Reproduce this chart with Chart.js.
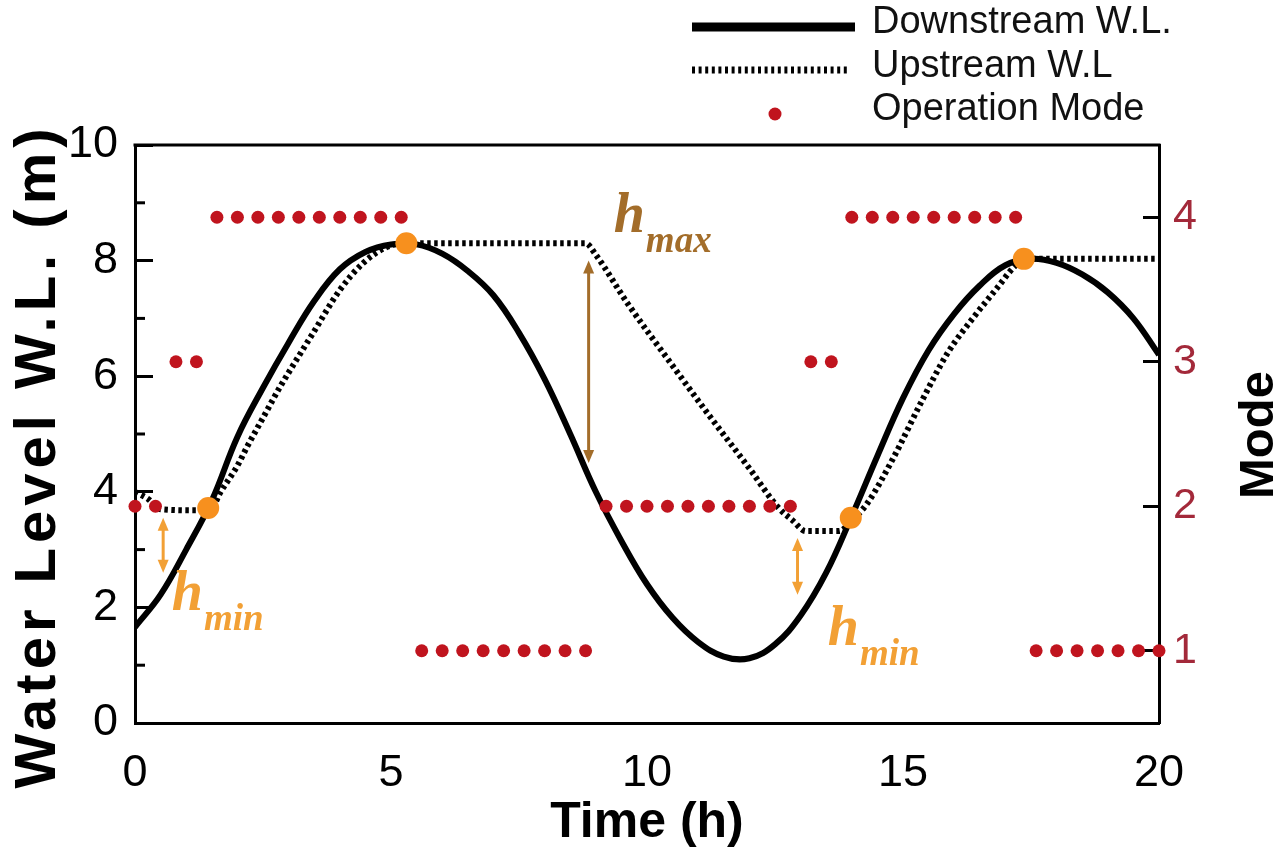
<!DOCTYPE html>
<html>
<head>
	<meta charset="UTF-8">
	<title>Water level and operation mode</title>
	<script src="https://cdn.jsdelivr.net/npm/chart.js@4.4.1/dist/chart.umd.min.js"></script>
	<style>
		body {
			margin:0;
			padding:0;
			overflow: hidden;
			background:#fff;
		}
		canvas {
			display:block;
		}
	</style>
</head>
<body>
	<canvas id="chart" width="1280" height="851"></canvas>
	<script>
		// Downstream W.L.
		const downTime = [0,0.5,1,1.5,2,2.5,3,3.5,4,4.5,5,5.5,6,6.5,7,7.5,8,8.5,9,9.5,10,10.5,11,11.5,12,12.5,13,13.5,14,14.5,15,15.5,16,16.5,17,17.5,18,18.5,19,19.5,20];
		const downLevel = [1.66,2.22,3.0,3.85,4.95,5.8,6.58,7.3,7.85,8.15,8.28,8.28,8.12,7.82,7.4,6.75,5.95,5.0,4.0,3.15,2.4,1.82,1.4,1.15,1.12,1.36,1.86,2.6,3.58,4.62,5.62,6.45,7.08,7.57,7.92,8.03,7.96,7.76,7.45,7.0,6.37];

		// Upstream W.L
		const upTime = [0,0.25,0.5,1.2,1.5,1.66,2.0,2.19,2.5,2.83,3.2,3.48,4.0,4.46,4.93,5.3,8.8,9.0,9.62,10.46,11.24,12.02,12.55,12.85,13.1,13.75,14.0,14.31,14.82,15.35,15.87,16.38,16.85,17.17,17.4,20];
		const upLevel = [4.0,3.88,3.7,3.68,3.72,3.98,4.45,4.78,5.28,5.81,6.35,6.75,7.49,7.96,8.24,8.3,8.3,8.1,7.26,6.23,5.29,4.38,3.74,3.5,3.32,3.32,3.5,3.81,4.6,5.54,6.4,7.02,7.54,7.89,8.03,8.03];

		// Operation mode (right axis)
		const modeTime = [0,0.4,0.8,1.2,1.6,2.0,2.4,2.8,3.2,3.6,4.0,4.4,4.8,5.2,5.6,6.0,6.4,6.8,7.2,7.6,8.0,8.4,8.8,9.2,9.6,10.0,10.4,10.8,11.2,11.6,12.0,12.4,12.8,13.2,13.6,14.0,14.4,14.8,15.2,15.6,16.0,16.4,16.8,17.2,17.6,18.0,18.4,18.8,19.2,19.6,20.0];
		const modeValue = [2,2,3,3,4,4,4,4,4,4,4,4,4,4,1,1,1,1,1,1,1,1,1,2,2,2,2,2,2,2,2,2,2,3,3,4,4,4,4,4,4,4,4,4,1,1,1,1,1,1,1];

		// orange switch markers
		const markTime = [1.43,5.3,13.98,17.36];
		const markLevel = [3.72,8.3,3.55,8.03];

		// h_min / h_max arrows
		const arrowTime = [0.55,8.86,12.94];
		const arrowTop = [3.55,8.0,3.2];
		const arrowBottom = [2.6,4.5,2.22];

		const xTicks = [0,5,10,15,20];
		const levelTicks = [0,2,4,6,8,10];
		const modeTicks = [1,2,3,4];

		const pts = (xs, ys) => xs.map((x, i) => ({x: x, y: ys[i]}));

		const SANS = "'Liberation Sans', Arial, sans-serif";
		const SERIF = "'Liberation Serif', 'Times New Roman', serif";
		const RED = '#c0141e';
		const ORANGE = '#f2a035';
		const BROWN = '#a36d2a';

		function arrow(ctx, x, yTop, yBot, color) {
			ctx.save();
			ctx.strokeStyle = color;
			ctx.fillStyle = color;
			ctx.lineWidth = 3;
			ctx.beginPath();
			ctx.moveTo(x, yTop + 8);
			ctx.lineTo(x, yBot - 8);
			ctx.stroke();
			ctx.beginPath();
			ctx.moveTo(x, yTop); ctx.lineTo(x - 5.5, yTop + 13); ctx.lineTo(x + 5.5, yTop + 13);
			ctx.closePath(); ctx.fill();
			ctx.beginPath();
			ctx.moveTo(x, yBot); ctx.lineTo(x - 5.5, yBot - 13); ctx.lineTo(x + 5.5, yBot - 13);
			ctx.closePath(); ctx.fill();
			ctx.restore();
		}

		function hLabel(ctx, x, y, sub, color) {
			ctx.save();
			ctx.fillStyle = color;
			ctx.textAlign = 'left';
			ctx.textBaseline = 'alphabetic';
			ctx.font = 'italic bold 56px ' + SERIF;
			ctx.fillText('h', x, y);
			const w = ctx.measureText('h').width;
			ctx.font = 'italic bold 37px ' + SERIF;
			ctx.fillText(sub, x + w + 1, y + 20);
			ctx.restore();
		}

		const decor = {
			id: 'decor',
			afterDatasetsDraw(chart) {
				const ctx = chart.ctx;
				const xs = chart.scales.x, ys = chart.scales.y;
				const ca = chart.chartArea;
				ctx.save();
				// top frame line
				ctx.strokeStyle = '#000';
				ctx.lineWidth = 3;
				ctx.beginPath();
				ctx.moveTo(ca.left - 1.5, ca.top);
				ctx.lineTo(ca.right + 1.5, ca.top);
				ctx.stroke();
				// minor ticks on the left axis
				[1,3,5,7,9].forEach(v => {
					const y = ys.getPixelForValue(v);
					ctx.beginPath();
					ctx.moveTo(ca.left, y);
					ctx.lineTo(ca.left + 10, y);
					ctx.stroke();
				});
				ctx.restore();

				const colors = [ORANGE, BROWN, ORANGE];
				arrowTime.forEach((t, i) => {
					arrow(ctx, xs.getPixelForValue(t), ys.getPixelForValue(arrowTop[i]), ys.getPixelForValue(arrowBottom[i]), colors[i]);
				});
				hLabel(ctx, xs.getPixelForValue(0.72), ys.getPixelForValue(1.955), 'min', ORANGE);
				hLabel(ctx, xs.getPixelForValue(9.35), ys.getPixelForValue(8.49), 'max', BROWN);
				hLabel(ctx, xs.getPixelForValue(13.53), ys.getPixelForValue(1.35), 'min', ORANGE);
			},
			afterDraw(chart) {
				const ctx = chart.ctx;
				const ca = chart.chartArea;
				ctx.save();
				// legend
				ctx.strokeStyle = '#000';
				ctx.lineWidth = 9;
				ctx.beginPath(); ctx.moveTo(692, 27); ctx.lineTo(855, 27); ctx.stroke();
				ctx.lineWidth = 7;
				ctx.setLineDash([3, 3.6]);
				ctx.beginPath(); ctx.moveTo(692, 70); ctx.lineTo(848, 70); ctx.stroke();
				ctx.setLineDash([]);
				ctx.fillStyle = RED;
				ctx.beginPath(); ctx.arc(775, 114, 6.5, 0, Math.PI * 2); ctx.fill();
				ctx.fillStyle = '#111';
				ctx.font = '38px ' + SANS;
				ctx.textAlign = 'left';
				ctx.textBaseline = 'alphabetic';
				ctx.fillText('Downstream W.L.', 872, 33);
				ctx.fillText('Upstream W.L', 872, 77);
				ctx.fillText('Operation Mode', 872, 120);

				// axis titles
				ctx.fillStyle = '#000';
				ctx.textAlign = 'center';
				ctx.font = 'bold 50px ' + SANS;
				ctx.fillText('Time (h)', (ca.left + ca.right) / 2, 837);

				ctx.save();
				ctx.translate(55, 456);
				ctx.rotate(-Math.PI / 2);
				ctx.font = 'bold 58px ' + SANS;
				ctx.letterSpacing = '5px';
				ctx.fillText('Water Level W.L. (m)', 0, 0);
				ctx.restore();

				ctx.save();
				ctx.translate(1273, 435);
				ctx.rotate(-Math.PI / 2);
				ctx.font = 'bold 49px ' + SANS;
				ctx.fillText('Mode', 0, 0);
				ctx.restore();
				ctx.restore();
			}
		};

		Chart.defaults.font.family = SANS;
		Chart.defaults.color = '#000';

		const ctx = document.getElementById('chart').getContext('2d');
		new Chart(ctx, {
			type: 'line',
			data: {
				datasets: [
					{
						label: 'Switch',
						data: pts(markTime, markLevel),
						showLine: false,
						pointRadius: 11,
						pointBackgroundColor: '#f7901e',
						pointBorderWidth: 0,
						yAxisID: 'y',
						order: 0
					},
					{
						label: 'Operation Mode',
						data: pts(modeTime, modeValue),
						showLine: false,
						pointRadius: 6.5,
						pointBackgroundColor: RED,
						pointBorderWidth: 0,
						yAxisID: 'y1',
						clip: false,
						order: 1
					},
					{
						label: 'Downstream W.L.',
						data: pts(downTime, downLevel),
						borderColor: '#000',
						borderWidth: 6,
						pointRadius: 0,
						tension: 0.4,
						fill: false,
						yAxisID: 'y',
						order: 2
					},
					{
						label: 'Upstream W.L',
						data: pts(upTime, upLevel),
						borderColor: '#000',
						borderWidth: 6,
						borderDash: [3.5, 3.5],
						pointRadius: 0,
						cubicInterpolationMode: 'monotone',
						fill: false,
						yAxisID: 'y',
						order: 3
					}
				]
			},
			options: {
				responsive: false,
				animation: false,
				layout: { padding: { top: 145, left: 0, right: 0, bottom: 0 } },
				plugins: {
					legend: { display: false },
					tooltip: { enabled: false }
				},
				scales: {
					x: {
						type: 'linear',
						min: 0,
						max: 20,
						afterBuildTicks: s => { s.ticks = xTicks.map(v => ({value: v})); },
						afterFit: s => { s.height = 128; },
						grid: { display: false, drawTicks: false },
						border: { display: true, width: 3, color: '#000' },
						ticks: { font: { size: 45 }, padding: 24, maxRotation: 0 }
					},
					y: {
						position: 'left',
						min: 0,
						max: 10,
						afterBuildTicks: s => { s.ticks = levelTicks.map(v => ({value: v})); },
						afterFit: s => { s.width = 135; },
						grid: { drawOnChartArea: false, drawTicks: true, tickLength: -18, tickWidth: 3, tickColor: '#000' },
						border: { display: true, width: 3, color: '#000' },
						ticks: { font: { size: 45 }, padding: 35 }
					},
					y1: {
						position: 'right',
						min: 0.5,
						max: 4.5,
						afterBuildTicks: s => { s.ticks = modeTicks.map(v => ({value: v})); },
						afterFit: s => { s.width = 121; },
						grid: { drawOnChartArea: false, drawTicks: true, tickLength: -16, tickWidth: 3, tickColor: '#000' },
						border: { display: true, width: 3, color: '#000' },
						ticks: { font: { size: 43 }, padding: 30, color: '#a3293a' }
					}
				}
			},
			plugins: [decor]
		});
	</script>
</body>
</html>
